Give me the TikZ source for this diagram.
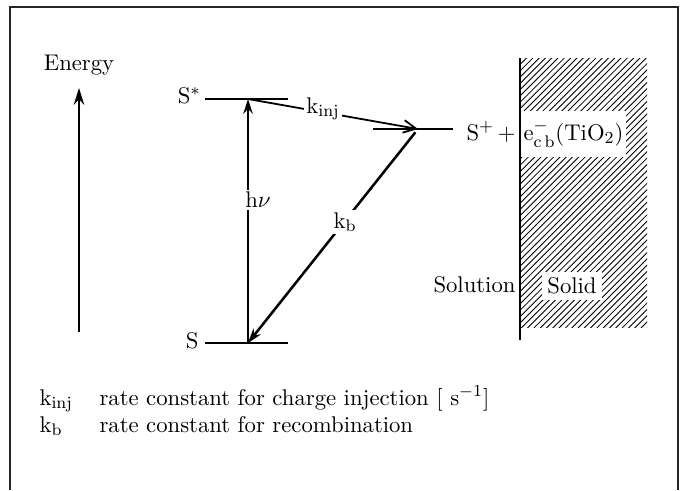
\documentclass[tikz,border=0pt]{standalone}
\usepackage{tikz}
\usetikzlibrary{arrows.meta,patterns}

\begin{document}
\begin{tikzpicture}[x=0.476pt, y=-0.476pt,
  txt/.style={inner sep=1pt, font=\fontsize{10.8}{13}\selectfont},
  blank/.style={txt, fill=white},
  level/.style={line width=1.1pt},
  jump/.style={line width=0.85pt, -{Stealth[length=7pt, width=4.5pt]}}]
  \useasboundingbox (0,0) rectangle (681,490);
  \draw[line width=0.7pt, black!85] (10,490) -- (10,7) -- (678,7) -- (678,490);

  % energy axis
  \coordinate (ebot) at (79,332);
  \coordinate (etop) at (79,88);
  \draw[line width=0.8pt, -{Stealth[length=8pt, width=5pt]}] (ebot) -- (etop);
  \node[txt] (energy) at (79,65) {Energy};

  % solid side of the interface
  \fill[pattern=north east lines] (520,58) rectangle (647,327);
  \coordinate (itop) at (520,58);
  \coordinate (ibot) at (520,340);
  \draw[line width=0.8pt] (itop) -- (ibot);
  \node[txt, anchor=east] (solution) at (518,285) {Solution};
  \node[blank, minimum width=29pt, minimum height=13pt] (solid) at (572,286) {Solid};

  % levels
  \draw[level] (205,99) -- (288,99);
  \draw[level] (205,343) -- (288,343);
  \draw[level] (373,129) -- (453,129);
  \coordinate (ex) at (248,99);
  \coordinate (gs) at (248,343);
  \coordinate (inj) at (418,129);
  \node[txt, anchor=east] (sstar) at (203,96) {S$^{*}$};
  \node[txt, anchor=east] (sground) at (201,341) {S};
  \node[txt, anchor=base east] (splus) at (518,140) {S$^{+}$\,+};
  \node[blank, anchor=base west, minimum height=22pt] (ecb) at (521,140) {e$^{-}_{\mathrm{c\,b}}$(TiO$_2$)};

  % transitions
  \draw[jump] (gs) -- (ex);
  \draw[jump, -{Straight Barb[length=6pt, width=6pt]}] (ex) -- (inj);
  \draw[jump, line width=1.2pt, shorten <=2pt] (inj) -- (gs);
  \node[blank] (hnu) at (258,200) {h$\nu$};
  \node[blank] (kinj) at (323,109) {k$_{\mathrm{inj}}$};
  \node[blank] (kb) at (345,222) {k$_{\mathrm{b}}$};

  % legend
  \node[txt, anchor=base west] (kinjkey) at (37,405) {k$_{\mathrm{inj}}$};
  \node[txt, anchor=base west] (kinjtxt) at (97,405) {rate constant for charge injection [ s$^{-1}$]};
  \node[txt, anchor=base west] (kbkey) at (37,432) {k$_{\mathrm{b}}$};
  \node[txt, anchor=base west] (kbtxt) at (97,432) {rate constant for recombination};
\end{tikzpicture}
\end{document}
